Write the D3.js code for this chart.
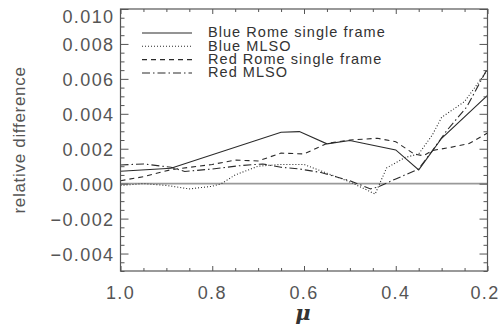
<!DOCTYPE html>
<html><head><meta charset="utf-8">
<script src="https://cdn.jsdelivr.net/npm/d3@7/dist/d3.min.js"></script>
<style>
body{margin:0;background:#fff;}
svg{display:block;}
</style></head>
<body><svg id="c" width="502" height="324"></svg>
<script>
// ---- data ----
const seriesNames = ["Blue Rome single frame", "Blue MLSO", "Red Rome single frame", "Red MLSO"];

const blueRomeMu  = [1.00, 0.89, 0.65, 0.61, 0.55, 0.50, 0.40, 0.35, 0.30, 0.20];
const blueRomeVal = [0.00071, 0.00088, 0.00294, 0.00298, 0.00228, 0.00247, 0.00193, 0.00079, 0.00260, 0.00505];

const blueMlsoMu  = [1.00, 0.95, 0.90, 0.85, 0.80, 0.78, 0.75, 0.70, 0.65, 0.60, 0.55, 0.50, 0.46, 0.445, 0.42, 0.38, 0.35, 0.32, 0.30, 0.25, 0.20];
const blueMlsoVal = [-0.0001, 0.0, -0.0001, -0.0003, -0.00015, 0.0, 0.0005, 0.0010, 0.0011, 0.0011, 0.0006, 0.0001, -0.0004, -0.0006, 0.0009, 0.0015, 0.0017, 0.0028, 0.0038, 0.0047, 0.0065];

const redRomeMu   = [1.00, 0.95, 0.89, 0.80, 0.75, 0.70, 0.65, 0.60, 0.55, 0.50, 0.44, 0.40, 0.36, 0.34, 0.32, 0.28, 0.24, 0.20];
const redRomeVal  = [0.00017, 0.0004, 0.0008, 0.0011, 0.00135, 0.0013, 0.00175, 0.0017, 0.0023, 0.0025, 0.0026, 0.0024, 0.0017, 0.0016, 0.0019, 0.00208, 0.0023, 0.0029];

const redMlsoMu   = [1.00, 0.95, 0.89, 0.86, 0.80, 0.74, 0.69, 0.65, 0.61, 0.565, 0.50, 0.455, 0.44, 0.40, 0.35, 0.32, 0.29, 0.245, 0.20];
const redMlsoVal  = [0.00107, 0.00113, 0.00094, 0.0007, 0.00084, 0.00103, 0.00113, 0.00094, 0.00084, 0.00065, 0.00017, -0.0003, -0.0002, 0.00027, 0.00084, 0.0019, 0.0030, 0.0044, 0.0066];

const xMajorTicks = [1.0, 0.8, 0.6, 0.4, 0.2];
const xTickLabels = ["1.0", "0.8", "0.6", "0.4", "0.2"];
const yMajorTicks = [-0.004, -0.002, 0.000, 0.002, 0.004, 0.006, 0.008, 0.010];
const yTickLabels = ["\u22120.004", "\u22120.002", "0.000", "0.002", "0.004", "0.006", "0.008", "0.010"];

// ---- layout ----
const L = 120.5, R = 487.5, T = 9, B = 271;
const svg = d3.select("#c");
const x = d3.scaleLinear().domain([1.0, 0.2]).range([L, R]);
const y = d3.scaleLinear().domain([-0.005, 0.010]).range([B, T]);

const axisColor = "#555";
const lineColor = "#2a2a2a";

// zero line
svg.append("line")
  .attr("x1", L).attr("x2", R).attr("y1", y(0)).attr("y2", y(0))
  .attr("stroke", "#999").attr("stroke-width", 1.6);

// series
const series = [
  {mu: blueRomeMu, val: blueRomeVal, dash: null},
  {mu: blueMlsoMu, val: blueMlsoVal, dash: "1,2"},
  {mu: redRomeMu, val: redRomeVal, dash: "5,4"},
  {mu: redMlsoMu, val: redMlsoVal, dash: "8,3,1.5,3"}
];
const line = d3.line().x(d => x(d[0])).y(d => y(d[1]));
series.forEach(s => {
  const pts = s.mu.map((m, i) => [m, s.val[i]]);
  svg.append("path").datum(pts).attr("d", line)
    .attr("fill", "none").attr("stroke", lineColor).attr("stroke-width", 1.1)
    .attr("stroke-dasharray", s.dash);
});

// axes with ticks on all sides (IDL style)
const xMinor = d3.range(0, 17).map(i => 1.0 - i * 0.05).filter(v => !xMajorTicks.some(t => Math.abs(t - v) < 1e-9));
const yMinor = d3.range(0, 31).map(i => -0.005 + i * 0.0005).filter(v => !yMajorTicks.some(t => Math.abs(t - v) < 1e-9));

function tickGroup(axisFn, scale, vals, size, tx, ty) {
  const g = svg.append("g").attr("transform", `translate(${tx},${ty})`)
    .call(axisFn(scale).tickValues(vals).tickSize(size).tickFormat(""));
  g.select(".domain").remove();
  g.selectAll("line").attr("stroke", axisColor).attr("stroke-width", 1);
  return g;
}
tickGroup(d3.axisTop, x, xMajorTicks, 5, 0, B);
tickGroup(d3.axisTop, x, xMinor, 3, 0, B);
tickGroup(d3.axisBottom, x, xMajorTicks, 5, 0, T);
tickGroup(d3.axisBottom, x, xMinor, 3, 0, T);
tickGroup(d3.axisRight, y, yMajorTicks, 8, L, 0);
tickGroup(d3.axisRight, y, yMinor, 4, L, 0);
tickGroup(d3.axisLeft, y, yMajorTicks, 8, R, 0);
tickGroup(d3.axisLeft, y, yMinor, 4, R, 0);

// frame
svg.append("rect").attr("x", L).attr("y", T).attr("width", R - L).attr("height", B - T)
  .attr("fill", "none").attr("stroke", axisColor).attr("stroke-width", 1.2);

// tick labels
const font = "'Liberation Sans', Arial, Helvetica, sans-serif";
const ylab = svg.append("g").attr("font-family", font).attr("font-size", 18)
  .attr("fill", "#555").attr("letter-spacing", "1.4px").attr("text-anchor", "end");
yMajorTicks.forEach((v, i) => {
  const cy = Math.max(y(v) + 1, 17);
  ylab.append("text").attr("x", 114.5).attr("y", cy).attr("dy", "0.36em").text(yTickLabels[i]);
});
const xlab = svg.append("g").attr("font-family", font).attr("font-size", 18)
  .attr("fill", "#555").attr("letter-spacing", "1.4px").attr("text-anchor", "middle");
xMajorTicks.forEach((v, i) => {
  xlab.append("text").attr("x", x(v) + (i === 4 ? -2.5 : 0)).attr("y", 299).text(xTickLabels[i]);
});

// axis titles
svg.append("text").attr("transform", "translate(25,140) rotate(-90)")
  .attr("text-anchor", "middle").attr("font-family", font).attr("font-size", 17)
  .attr("letter-spacing", "0.7px").attr("fill", "#555").text("relative difference");
svg.append("text").attr("x", 303).attr("y", 320).attr("text-anchor", "middle")
  .attr("font-family", "'DejaVu Serif', 'Liberation Serif', serif").attr("font-style", "italic")
  .attr("font-weight", "bold").attr("font-size", 21).attr("fill", "#333").text("\u03bc");

// legend (one text block, one line per series, as in the tightly packed original)
const legY = [33, 46.3, 59.6, 73];
const leg = svg.append("g");
series.forEach((s, i) => {
  leg.append("line").attr("x1", 142).attr("x2", 192).attr("y1", legY[i]).attr("y2", legY[i])
    .attr("stroke", lineColor).attr("stroke-width", 1.1).attr("stroke-dasharray", s.dash);
});
const legText = leg.append("text")
  .attr("font-family", font).attr("font-size", 14.5).attr("letter-spacing", "1.05px")
  .attr("fill", "#333");
seriesNames.forEach((name, i) => {
  legText.append("tspan").attr("x", 208).attr("y", legY[i] + 4.3).text(name);
});
</script></body></html>
